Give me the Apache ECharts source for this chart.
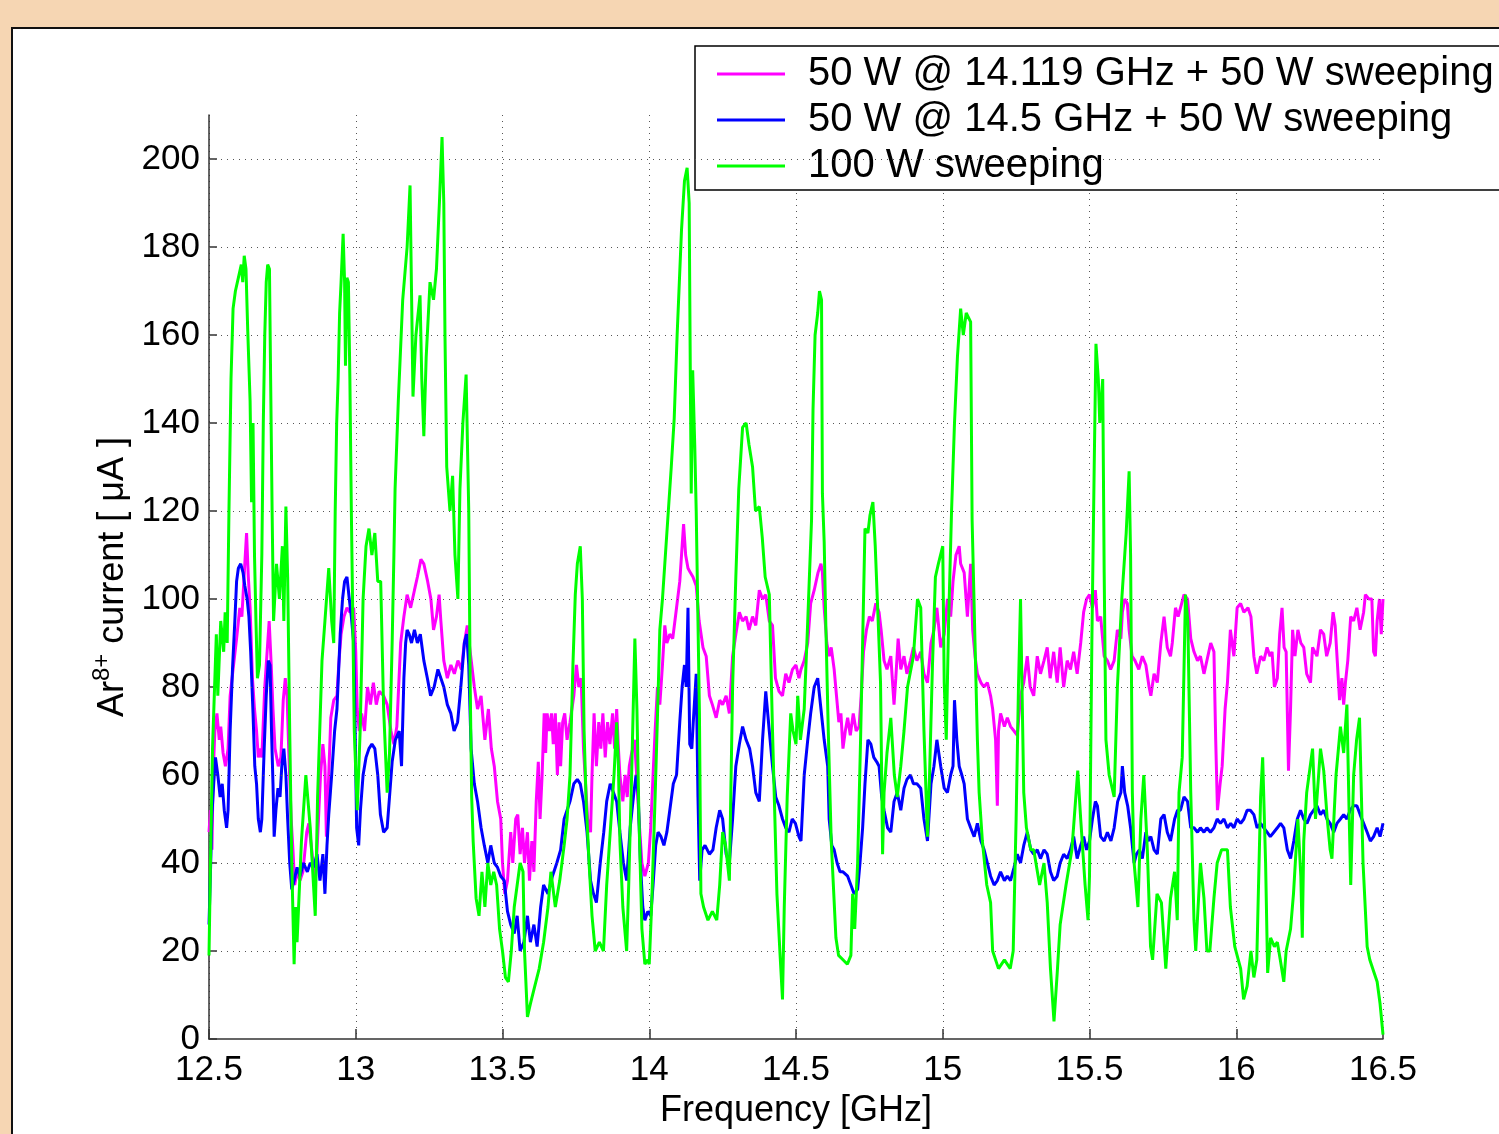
<!DOCTYPE html>
<html><head><meta charset="utf-8">
<script src="https://cdn.jsdelivr.net/npm/echarts@6/dist/echarts.min.js"></script>
<style>html,body{margin:0;padding:0;background:#F6D6B3;}#chart{width:1499px;height:1134px;}</style>
</head><body><div id="chart"></div>
<script>
const seriesNames = ['50 W @ 14.119 GHz + 50 W sweeping', '50 W @ 14.5 GHz + 50 W sweeping', '100 W sweeping'];
const xTicks = [12.5, 13, 13.5, 14, 14.5, 15, 15.5, 16, 16.5];
const yTicks = [0, 20, 40, 60, 80, 100, 120, 140, 160, 180, 200];

// [frequency GHz, current uA]
const magenta = [[12.500,47],[12.505,52],[12.510,43],[12.514,60],[12.520,70],[12.527,74],[12.535,68],[12.540,71],[12.548,65],[12.556,62],[12.565,66],[12.572,78],[12.582,84],[12.594,91],[12.605,98],[12.612,96],[12.622,108],[12.628,115],[12.634,105],[12.640,98],[12.648,82],[12.655,75],[12.662,70],[12.668,64],[12.675,66],[12.680,64],[12.690,80],[12.700,90],[12.705,95],[12.712,85],[12.718,75],[12.725,66],[12.736,62],[12.745,64],[12.753,77],[12.760,82],[12.766,78],[12.772,65],[12.780,50],[12.786,43],[12.792,35],[12.800,38],[12.810,36],[12.820,38],[12.833,47],[12.840,49],[12.850,43],[12.860,36],[12.866,40],[12.873,50],[12.880,60],[12.888,67],[12.895,62],[12.900,46],[12.908,60],[12.915,73],[12.925,77],[12.936,78],[12.942,85],[12.950,92],[12.960,96],[12.970,98],[12.980,97],[12.993,98],[13.000,88],[13.005,75],[13.012,70],[13.020,74],[13.030,70],[13.040,80],[13.050,76],[13.060,81],[13.070,76],[13.080,79],[13.095,78],[13.107,76],[13.120,70],[13.130,67],[13.140,71],[13.153,90],[13.164,96],[13.175,101],[13.187,98],[13.200,102],[13.210,105],[13.222,109],[13.232,108],[13.245,104],[13.256,100],[13.265,93],[13.275,96],[13.284,101],[13.290,95],[13.300,86],[13.312,82],[13.324,85],[13.336,83],[13.348,86],[13.360,84],[13.370,90],[13.380,94],[13.390,88],[13.404,80],[13.415,75],[13.427,78],[13.440,68],[13.452,75],[13.462,66],[13.472,62],[13.483,54],[13.494,50],[13.500,40],[13.508,33],[13.517,36],[13.528,47],[13.535,40],[13.545,50],[13.552,51],[13.560,42],[13.568,48],[13.575,40],[13.585,47],[13.592,36],[13.600,45],[13.607,38],[13.615,54],[13.622,63],[13.628,50],[13.635,60],[13.642,74],[13.647,65],[13.652,74],[13.660,70],[13.667,74],[13.673,67],[13.680,74],[13.687,60],[13.693,72],[13.698,62],[13.705,72],[13.712,74],[13.720,68],[13.730,72],[13.743,78],[13.752,85],[13.760,80],[13.768,82],[13.776,66],[13.783,58],[13.790,50],[13.800,47],[13.805,60],[13.812,74],[13.820,62],[13.828,72],[13.835,66],[13.842,74],[13.850,64],[13.858,72],[13.866,67],[13.875,74],[13.882,66],[13.889,75],[13.895,66],[13.900,60],[13.910,54],[13.918,60],[13.925,55],[13.932,62],[13.940,65],[13.950,68],[13.957,60],[13.965,50],[13.975,40],[13.985,37],[13.997,40],[14.005,48],[14.013,60],[14.020,70],[14.028,80],[14.036,76],[14.045,85],[14.053,94],[14.060,90],[14.070,92],[14.080,91],[14.093,98],[14.104,104],[14.112,112],[14.117,117],[14.124,110],[14.132,107],[14.140,106],[14.149,105],[14.160,103],[14.170,95],[14.183,89],[14.194,87],[14.205,78],[14.215,76],[14.228,73],[14.240,77],[14.250,76],[14.262,78],[14.273,74],[14.284,87],[14.295,92],[14.307,97],[14.318,95],[14.330,96],[14.340,93],[14.352,96],[14.363,94],[14.375,102],[14.386,100],[14.397,101],[14.409,95],[14.420,94],[14.430,82],[14.442,79],[14.454,78],[14.465,83],[14.476,81],[14.488,84],[14.500,85],[14.510,82],[14.517,84],[14.528,86],[14.540,90],[14.550,99],[14.562,102],[14.575,106],[14.585,108],[14.590,106],[14.596,98],[14.605,90],[14.613,87],[14.620,89],[14.630,84],[14.638,78],[14.646,72],[14.653,74],[14.660,66],[14.668,70],[14.676,73],[14.685,69],[14.695,74],[14.705,70],[14.715,71],[14.722,78],[14.730,88],[14.740,93],[14.750,96],[14.760,95],[14.772,99],[14.783,97],[14.790,93],[14.800,86],[14.810,84],[14.823,87],[14.834,76],[14.840,82],[14.848,91],[14.857,84],[14.868,87],[14.878,83],[14.890,86],[14.900,89],[14.912,86],[14.925,88],[14.936,83],[14.948,81],[14.960,90],[14.970,93],[14.980,98],[14.993,89],[15.005,92],[15.016,100],[15.027,96],[15.035,104],[15.045,110],[15.056,112],[15.061,108],[15.073,106],[15.084,96],[15.095,108],[15.102,93],[15.110,87],[15.118,83],[15.130,81],[15.140,80],[15.152,81],[15.163,78],[15.170,75],[15.180,68],[15.186,53],[15.190,70],[15.197,74],[15.210,71],[15.220,73],[15.231,71],[15.243,70],[15.254,69],[15.265,78],[15.276,81],[15.288,87],[15.298,80],[15.310,78],[15.322,87],[15.333,83],[15.345,86],[15.356,89],[15.366,82],[15.378,88],[15.390,81],[15.400,89],[15.412,80],[15.424,86],[15.435,84],[15.446,88],[15.458,83],[15.470,90],[15.480,97],[15.490,100],[15.500,101],[15.510,98],[15.520,102],[15.527,95],[15.538,96],[15.550,87],[15.561,86],[15.572,84],[15.584,86],[15.595,93],[15.607,91],[15.612,97],[15.620,100],[15.629,99],[15.635,93],[15.645,87],[15.655,86],[15.668,84],[15.680,87],[15.692,85],[15.703,80],[15.709,78],[15.720,83],[15.731,81],[15.743,90],[15.754,96],[15.765,89],[15.776,87],[15.782,90],[15.793,98],[15.802,96],[15.810,98],[15.822,101],[15.834,100],[15.845,91],[15.856,88],[15.868,86],[15.878,87],[15.890,83],[15.900,86],[15.913,90],[15.924,88],[15.930,68],[15.936,52],[15.945,58],[15.952,62],[15.962,75],[15.970,81],[15.980,93],[15.992,87],[16.003,98],[16.015,99],[16.026,97],[16.040,98],[16.050,96],[16.060,87],[16.070,83],[16.083,87],[16.094,86],[16.105,89],[16.115,87],[16.122,88],[16.130,80],[16.140,82],[16.148,92],[16.156,98],[16.163,89],[16.170,88],[16.178,61],[16.185,75],[16.192,93],[16.200,87],[16.210,93],[16.220,90],[16.230,89],[16.240,83],[16.253,81],[16.260,89],[16.275,87],[16.287,93],[16.298,92],[16.308,87],[16.320,90],[16.330,97],[16.337,94],[16.345,85],[16.352,77],[16.360,82],[16.366,76],[16.372,81],[16.380,86],[16.390,96],[16.400,95],[16.411,98],[16.422,93],[16.434,97],[16.440,101],[16.452,100],[16.462,100],[16.468,88],[16.474,87],[16.480,95],[16.488,100],[16.494,92],[16.500,100]];

const blue = [[12.500,26],[12.505,38],[12.510,51],[12.516,58],[12.522,64],[12.530,60],[12.538,55],[12.545,58],[12.552,52],[12.560,48],[12.565,52],[12.572,70],[12.580,84],[12.588,95],[12.594,104],[12.600,107],[12.608,108],[12.616,106],[12.622,103],[12.630,100],[12.636,96],[12.642,88],[12.650,74],[12.656,62],[12.662,58],[12.668,50],[12.675,47],[12.680,50],[12.688,66],[12.695,78],[12.702,86],[12.708,85],[12.713,70],[12.718,58],[12.722,46],[12.728,52],[12.735,57],[12.742,55],[12.748,62],[12.755,66],[12.762,60],[12.768,50],[12.775,40],[12.782,34],[12.790,36],[12.800,39],[12.810,37],[12.822,40],[12.835,38],[12.845,40],[12.856,39],[12.868,42],[12.878,36],[12.888,42],[12.895,33],[12.902,44],[12.908,51],[12.918,60],[12.928,70],[12.936,75],[12.947,92],[12.955,100],[12.962,104],[12.970,105],[12.978,100],[12.985,96],[12.993,90],[12.998,70],[13.003,48],[13.010,44],[13.016,52],[13.025,60],[13.035,64],[13.045,66],[13.055,67],[13.065,66],[13.075,60],[13.084,51],[13.095,47],[13.107,48],[13.115,55],[13.124,63],[13.135,68],[13.148,70],[13.156,62],[13.164,82],[13.170,90],[13.175,93],[13.182,92],[13.190,90],[13.200,93],[13.210,90],[13.220,92],[13.232,86],[13.244,82],[13.255,78],[13.267,80],[13.280,84],[13.290,82],[13.300,80],[13.312,76],[13.324,74],[13.335,70],[13.347,72],[13.358,80],[13.370,90],[13.378,92],[13.385,85],[13.393,66],[13.404,58],[13.415,54],[13.427,48],[13.438,44],[13.450,40],[13.460,44],[13.472,40],[13.483,39],[13.494,37],[13.506,36],[13.517,29],[13.528,26],[13.540,24],[13.550,28],[13.560,20],[13.573,22],[13.585,28],[13.595,22],[13.607,26],[13.618,21],[13.630,30],[13.640,35],[13.655,33],[13.670,37],[13.685,40],[13.698,43],[13.710,50],[13.720,52],[13.730,54],[13.743,58],[13.755,59],[13.765,58],[13.776,54],[13.788,47],[13.800,36],[13.810,33],[13.820,31],[13.833,40],[13.845,47],[13.855,54],[13.867,58],[13.878,56],[13.889,54],[13.900,47],[13.912,40],[13.923,36],[13.935,48],[13.946,55],[13.955,60],[13.962,56],[13.970,40],[13.978,30],[13.985,27],[13.995,29],[14.005,28],[14.013,35],[14.022,44],[14.030,47],[14.040,46],[14.050,44],[14.060,47],[14.070,52],[14.082,58],[14.093,60],[14.104,72],[14.112,80],[14.120,85],[14.126,80],[14.132,98],[14.138,67],[14.145,66],[14.150,72],[14.160,83],[14.166,55],[14.172,36],[14.180,43],[14.190,44],[14.205,42],[14.217,43],[14.228,48],[14.240,52],[14.250,50],[14.262,42],[14.273,40],[14.284,50],[14.295,62],[14.307,67],[14.318,71],[14.330,68],[14.342,66],[14.352,62],[14.363,56],[14.375,54],[14.386,68],[14.397,79],[14.409,70],[14.420,62],[14.431,55],[14.442,53],[14.454,50],[14.465,48],[14.476,47],[14.487,50],[14.498,49],[14.510,46],[14.517,45],[14.528,60],[14.540,68],[14.550,74],[14.562,80],[14.574,82],[14.585,75],[14.596,68],[14.608,62],[14.613,50],[14.622,44],[14.630,43],[14.640,40],[14.650,38],[14.660,38],[14.676,37],[14.687,35],[14.698,33],[14.710,34],[14.718,40],[14.727,48],[14.735,58],[14.745,68],[14.755,67],[14.765,64],[14.775,63],[14.783,62],[14.792,55],[14.800,52],[14.812,48],[14.823,47],[14.834,54],[14.845,56],[14.857,52],[14.868,57],[14.878,59],[14.890,60],[14.900,58],[14.912,58],[14.925,57],[14.936,50],[14.948,45],[14.960,58],[14.970,62],[14.980,68],[14.993,62],[15.005,57],[15.016,56],[15.027,60],[15.035,62],[15.040,77],[15.048,68],[15.056,62],[15.065,60],[15.073,58],[15.084,50],[15.095,48],[15.107,46],[15.118,49],[15.130,45],[15.141,43],[15.152,40],[15.163,37],[15.175,35],[15.186,36],[15.197,38],[15.210,36],[15.220,37],[15.231,36],[15.243,39],[15.254,42],[15.265,40],[15.276,44],[15.288,47],[15.300,43],[15.310,42],[15.322,43],[15.333,41],[15.345,43],[15.356,42],[15.367,38],[15.378,36],[15.390,37],[15.400,40],[15.412,42],[15.424,41],[15.435,43],[15.446,46],[15.458,41],[15.470,44],[15.480,46],[15.490,43],[15.500,45],[15.510,50],[15.520,54],[15.527,53],[15.538,46],[15.550,45],[15.561,47],[15.573,45],[15.584,48],[15.596,54],[15.607,56],[15.612,62],[15.620,56],[15.630,53],[15.640,48],[15.652,40],[15.660,42],[15.670,43],[15.680,41],[15.692,47],[15.700,45],[15.709,46],[15.720,43],[15.731,42],[15.743,50],[15.754,51],[15.765,47],[15.776,45],[15.790,50],[15.800,52],[15.810,52],[15.822,55],[15.834,54],[15.845,48],[15.856,48],[15.868,47],[15.878,48],[15.890,47],[15.900,48],[15.912,47],[15.924,48],[15.935,50],[15.946,49],[15.958,50],[15.970,48],[15.981,49],[15.992,48],[16.003,50],[16.015,49],[16.026,50],[16.037,52],[16.048,52],[16.060,51],[16.071,48],[16.083,49],[16.094,48],[16.105,47],[16.116,46],[16.128,47],[16.140,48],[16.151,49],[16.162,48],[16.174,43],[16.185,41],[16.196,45],[16.208,50],[16.219,52],[16.230,50],[16.241,49],[16.253,51],[16.264,52],[16.275,53],[16.287,51],[16.298,52],[16.309,50],[16.320,49],[16.332,47],[16.343,49],[16.355,50],[16.366,51],[16.377,50],[16.388,52],[16.400,53],[16.411,53],[16.422,51],[16.434,49],[16.446,47],[16.457,45],[16.468,46],[16.480,48],[16.490,46],[16.500,49]];

const green = [[12.500,19],[12.505,40],[12.512,66],[12.520,82],[12.525,92],[12.530,78],[12.540,95],[12.550,88],[12.555,97],[12.562,90],[12.568,120],[12.575,150],[12.582,166],[12.590,170],[12.600,173],[12.610,176],[12.615,172],[12.620,178],[12.626,175],[12.632,161],[12.640,145],[12.645,122],[12.650,140],[12.655,110],[12.660,95],[12.665,82],[12.672,85],[12.680,110],[12.685,140],[12.690,160],[12.695,172],[12.700,176],[12.706,175],[12.710,150],[12.715,120],[12.720,95],[12.730,108],[12.740,100],[12.750,112],[12.755,95],[12.762,121],[12.768,105],[12.775,70],[12.782,40],[12.790,17],[12.795,30],[12.800,22],[12.815,45],[12.830,60],[12.845,48],[12.862,28],[12.870,55],[12.885,86],[12.895,95],[12.908,107],[12.918,95],[12.925,90],[12.930,120],[12.935,140],[12.940,150],[12.945,165],[12.950,172],[12.957,183],[12.962,172],[12.965,153],[12.970,173],[12.975,172],[12.980,150],[12.985,120],[12.990,95],[12.995,70],[13.005,52],[13.015,70],[13.025,100],[13.035,112],[13.045,116],[13.055,110],[13.065,115],[13.075,104],[13.085,104],[13.095,75],[13.107,56],[13.115,65],[13.124,90],[13.130,110],[13.134,125],[13.145,145],[13.160,168],[13.175,180],[13.185,194],[13.190,170],[13.195,146],[13.205,160],[13.219,169],[13.225,150],[13.232,137],[13.240,155],[13.253,172],[13.265,168],[13.275,175],[13.285,190],[13.294,205],[13.300,190],[13.304,160],[13.310,130],[13.321,120],[13.330,128],[13.338,110],[13.348,100],[13.355,125],[13.365,140],[13.376,151],[13.385,120],[13.390,80],[13.395,55],[13.400,45],[13.410,32],[13.420,28],[13.430,38],[13.440,30],[13.450,40],[13.460,35],[13.470,38],[13.480,35],[13.490,25],[13.500,20],[13.510,14],[13.520,13],[13.530,20],[13.540,30],[13.550,35],[13.560,40],[13.570,38],[13.575,20],[13.585,5],[13.595,8],[13.610,12],[13.625,16],[13.640,22],[13.655,30],[13.665,38],[13.680,30],[13.695,36],[13.710,44],[13.720,50],[13.730,60],[13.740,85],[13.748,101],[13.755,108],[13.765,112],[13.772,100],[13.778,70],[13.785,54],[13.795,40],[13.805,28],[13.816,20],[13.830,22],[13.844,20],[13.855,35],[13.870,50],[13.880,60],[13.889,72],[13.895,62],[13.900,45],[13.910,30],[13.923,20],[13.930,35],[13.940,60],[13.951,91],[13.958,75],[13.965,50],[13.975,25],[13.985,17],[13.995,18],[14.000,17],[14.008,30],[14.020,55],[14.030,78],[14.036,93],[14.045,100],[14.055,110],[14.065,120],[14.075,130],[14.085,141],[14.095,160],[14.110,184],[14.120,195],[14.129,198],[14.136,190],[14.140,150],[14.143,124],[14.148,152],[14.155,135],[14.160,120],[14.166,95],[14.171,74],[14.176,33],[14.185,30],[14.200,27],[14.215,29],[14.230,27],[14.240,35],[14.250,47],[14.260,44],[14.273,36],[14.284,80],[14.295,105],[14.305,125],[14.318,139],[14.330,140],[14.340,135],[14.352,130],[14.362,120],[14.375,121],[14.385,114],[14.395,105],[14.409,101],[14.420,70],[14.435,33],[14.445,20],[14.454,9],[14.460,30],[14.470,55],[14.482,74],[14.490,70],[14.500,67],[14.506,78],[14.515,68],[14.528,75],[14.540,95],[14.553,118],[14.558,143],[14.565,160],[14.574,165],[14.580,170],[14.587,168],[14.590,124],[14.596,113],[14.602,93],[14.610,70],[14.620,45],[14.636,23],[14.645,19],[14.660,18],[14.675,17],[14.687,19],[14.693,33],[14.700,25],[14.710,40],[14.720,68],[14.727,90],[14.735,116],[14.745,115],[14.752,119],[14.762,122],[14.770,112],[14.780,95],[14.788,81],[14.795,42],[14.800,56],[14.810,65],[14.823,73],[14.835,60],[14.845,55],[14.857,62],[14.868,70],[14.880,80],[14.900,87],[14.914,100],[14.925,98],[14.936,70],[14.948,46],[14.955,60],[14.965,85],[14.975,105],[14.985,108],[15.000,112],[15.005,81],[15.012,68],[15.020,95],[15.030,120],[15.040,140],[15.050,155],[15.061,166],[15.070,160],[15.080,165],[15.095,163],[15.100,118],[15.110,90],[15.118,68],[15.124,56],[15.135,45],[15.150,35],[15.163,31],[15.170,20],[15.190,16],[15.210,18],[15.230,16],[15.240,20],[15.250,50],[15.258,80],[15.265,100],[15.271,100],[15.276,56],[15.285,48],[15.300,43],[15.310,43],[15.330,35],[15.345,40],[15.356,31],[15.367,16],[15.379,4],[15.390,15],[15.400,26],[15.420,35],[15.440,43],[15.460,61],[15.470,50],[15.485,35],[15.495,27],[15.500,37],[15.508,90],[15.516,130],[15.522,158],[15.530,150],[15.535,140],[15.545,150],[15.550,106],[15.556,68],[15.567,60],[15.584,55],[15.595,80],[15.610,100],[15.625,115],[15.635,129],[15.640,110],[15.646,56],[15.652,40],[15.665,30],[15.675,50],[15.685,60],[15.697,43],[15.708,21],[15.715,18],[15.730,33],[15.745,31],[15.760,16],[15.776,32],[15.790,38],[15.799,27],[15.805,56],[15.816,64],[15.827,101],[15.835,95],[15.845,56],[15.856,27],[15.862,20],[15.878,40],[15.890,32],[15.900,20],[15.910,20],[15.924,32],[15.935,40],[15.950,43],[15.970,43],[15.980,30],[15.995,21],[16.015,16],[16.025,9],[16.037,12],[16.050,20],[16.060,14],[16.070,18],[16.083,55],[16.090,64],[16.100,40],[16.107,15],[16.117,23],[16.130,21],[16.140,22],[16.150,18],[16.162,13],[16.170,20],[16.185,25],[16.195,33],[16.210,50],[16.220,37],[16.225,23],[16.230,45],[16.240,56],[16.260,66],[16.270,50],[16.287,66],[16.298,61],[16.310,50],[16.320,43],[16.326,41],[16.340,60],[16.355,71],[16.366,65],[16.377,76],[16.385,50],[16.390,35],[16.400,60],[16.410,68],[16.420,73],[16.432,40],[16.446,21],[16.455,18],[16.470,15],[16.480,13],[16.490,8],[16.500,1]];

const FONT = '"Liberation Sans", Arial, Helvetica, sans-serif';
const chart = echarts.init(document.getElementById('chart'));
const gridDots = {type: [1, 5], color: '#555', width: 1};
const lineW = 3;
chart.setOption({
  animation: false,
  backgroundColor: '#F6D6B3',
  graphic: [{
    type: 'rect', z: -10, silent: true,
    shape: {x: 12, y: 28, width: 1700, height: 1300},
    style: {fill: '#ffffff', stroke: '#111', lineWidth: 2}
  }],
  grid: {left: 209, right: 116, top: 115, bottom: 95, containLabel: false},
  legend: {
    orient: 'vertical', left: 695, top: 46,
    padding: [8, 20, 4, 22], itemGap: 6, itemWidth: 68, itemHeight: 3,
    icon: 'rect',
    backgroundColor: '#fff', borderColor: '#000', borderWidth: 1.5, borderRadius: 0,
    textStyle: {fontFamily: FONT, fontSize: 40, color: '#000', lineHeight: 40, padding: [0, 0, 0, 18]},
    data: seriesNames
  },
  xAxis: {
    type: 'value', min: 12.5, max: 16.5, interval: 0.5,
    name: 'Frequency [GHz]', nameLocation: 'middle', nameGap: 54,
    nameTextStyle: {fontFamily: FONT, fontSize: 36, color: '#000'},
    axisLine: {show: true, lineStyle: {color: '#333', width: 1.5}},
    axisTick: {show: true, inside: true, length: 10, lineStyle: {color: '#333', width: 1.5}},
    axisLabel: {fontFamily: FONT, fontSize: 35, color: '#000', margin: 14,
      formatter: v => String(+v.toFixed(1))},
    splitLine: {show: true, lineStyle: gridDots}
  },
  yAxis: {
    type: 'value', min: 0, max: 210, interval: 20,
    name: '{a|Ar}{s|8+}{a| current [ μA ]}', nameLocation: 'middle', nameGap: 68, nameRotate: 90,
    nameTextStyle: {fontFamily: FONT, color: '#000',
      rich: {a: {fontFamily: FONT, fontSize: 36, color: '#000', lineHeight: 44},
             s: {fontFamily: FONT, fontSize: 24, color: '#000', verticalAlign: 'top', lineHeight: 24}}},
    axisLine: {show: true, lineStyle: {color: '#333', width: 1.5}},
    axisTick: {show: true, inside: true, length: 8, customValues: yTicks, lineStyle: {color: '#333', width: 1.5}},
    axisLabel: {fontFamily: FONT, fontSize: 35, color: '#000', margin: 9, customValues: yTicks,
      formatter: v => (v > 200 ? '' : String(v))},
    splitLine: {show: false}
  },
  series: [
    {name: '_grid', type: 'line', data: [], silent: true, z: 1,
     markLine: {silent: true, symbol: ['none', 'none'], label: {show: false},
       lineStyle: gridDots, data: yTicks.filter(v => v > 0).map(v => ({yAxis: v}))}},
    {name: seriesNames[0], type: 'line', data: magenta, showSymbol: false, symbol: 'none', z: 3,
     lineStyle: {color: '#FF00FF', width: lineW}, itemStyle: {color: '#FF00FF'}},
    {name: seriesNames[1], type: 'line', data: blue, showSymbol: false, symbol: 'none', z: 4,
     lineStyle: {color: '#0000FF', width: lineW}, itemStyle: {color: '#0000FF'}},
    {name: seriesNames[2], type: 'line', data: green, showSymbol: false, symbol: 'none', z: 5,
     lineStyle: {color: '#00FF00', width: lineW}, itemStyle: {color: '#00FF00'}}
  ]
});
</script>
</body></html>
